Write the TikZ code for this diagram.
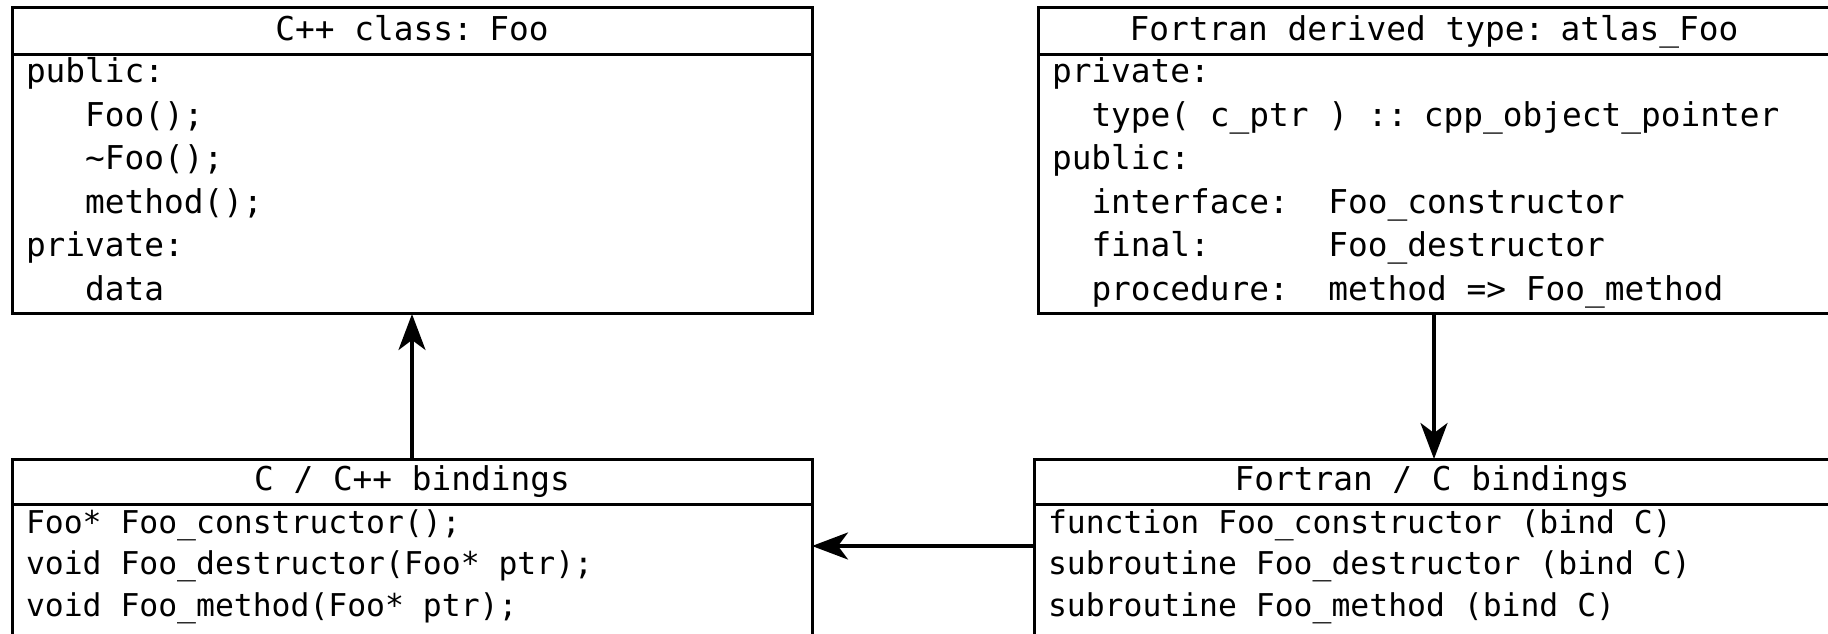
\documentclass[tikz,border=0pt]{standalone}
\usepackage{fontspec}
\setmonofont{DejaVu Sans Mono}
\usetikzlibrary{arrows.meta,positioning}

% blank columns, counted in character widths of the mono font
\newcommand{\blank}[1]{\hspace*{#1\fontcharwd\font`x}}
% word spaces as wide as one character
\newcommand{\monospacing}{\spaceskip=\fontcharwd\font`x\relax}

\begin{document}
\begin{tikzpicture}[
    font=\ttfamily\fontsize{16.4}{21.75}\selectfont,
    execute at begin node=\monospacing,
    box/.style={draw, line width=1.5pt, inner xsep=7pt, inner ysep=0pt,
      outer sep=0pt},
    head/.style={box, align=center, text height=16.5pt, text depth=7pt},
    body/.style={box, align=left, text height=14pt, text depth=115.5pt},
    bindhead/.style={head, text height=15.5pt},
    bindbody/.style={body, font=\ttfamily\fontsize{15.7}{20.75}\selectfont,
      text height=14.5pt, text depth=54pt},
    arrow/.style={-{Stealth[length=18pt, width=13.5pt, inset=5pt]},
      line width=1.7pt}
  ]
  \useasboundingbox (0,0) rectangle (914pt,316.5pt);
  \clip (0,0) rectangle (914pt,316.5pt);

  % C++ side
  \node[head, text width=386pt, anchor=north west] (cpphead) at (6pt,312.5pt)
    {C++ class: Foo};
  \node[body, text width=386pt, below=0pt of cpphead] (cppbody)
    {public:\\
     \blank{3}Foo();\\
     \blank{3}\textasciitilde Foo();\\
     \blank{3}method();\\
     private:\\
     \blank{3}data};

  \node[bindhead, text width=386pt, anchor=north west] (cchead) at (6pt,87pt)
    {C / C++ bindings};
  \node[bindbody, text width=386pt, below=0pt of cchead] (ccbody)
    {Foo* Foo\_constructor();\\
     void Foo\_destructor(Foo* ptr);\\
     void Foo\_method(Foo* ptr);};

  % Fortran side
  \node[head, text width=382pt, anchor=north west] (fthead) at (519pt,312.5pt)
    {Fortran derived type: atlas\_Foo};
  \node[body, text width=382pt, below=0pt of fthead] (ftbody)
    {private:\\
     \blank{2}type( c\_ptr ) :: cpp\_object\_pointer\\
     public:\\
     \blank{2}interface:\blank{2}Foo\_constructor\\
     \blank{2}final:\blank{6}Foo\_destructor\\
     \blank{2}procedure:\blank{2}method => Foo\_method};

  \node[bindhead, text width=384pt, anchor=north west] (fchead) at (517pt,87pt)
    {Fortran / C bindings};
  \node[bindbody, text width=384pt, below=0pt of fchead] (fcbody)
    {function Foo\_constructor (bind C)\\
     subroutine Foo\_destructor (bind C)\\
     subroutine Foo\_method (bind C)};

  \draw[arrow] (cchead.north) -- (cppbody.south);
  \draw[arrow] (ftbody.south) -- (fchead.north -| ftbody.south);
  \draw[arrow] ([yshift=-21pt]fcbody.north west) -- ([yshift=-21pt]ccbody.north east);
\end{tikzpicture}
\end{document}
